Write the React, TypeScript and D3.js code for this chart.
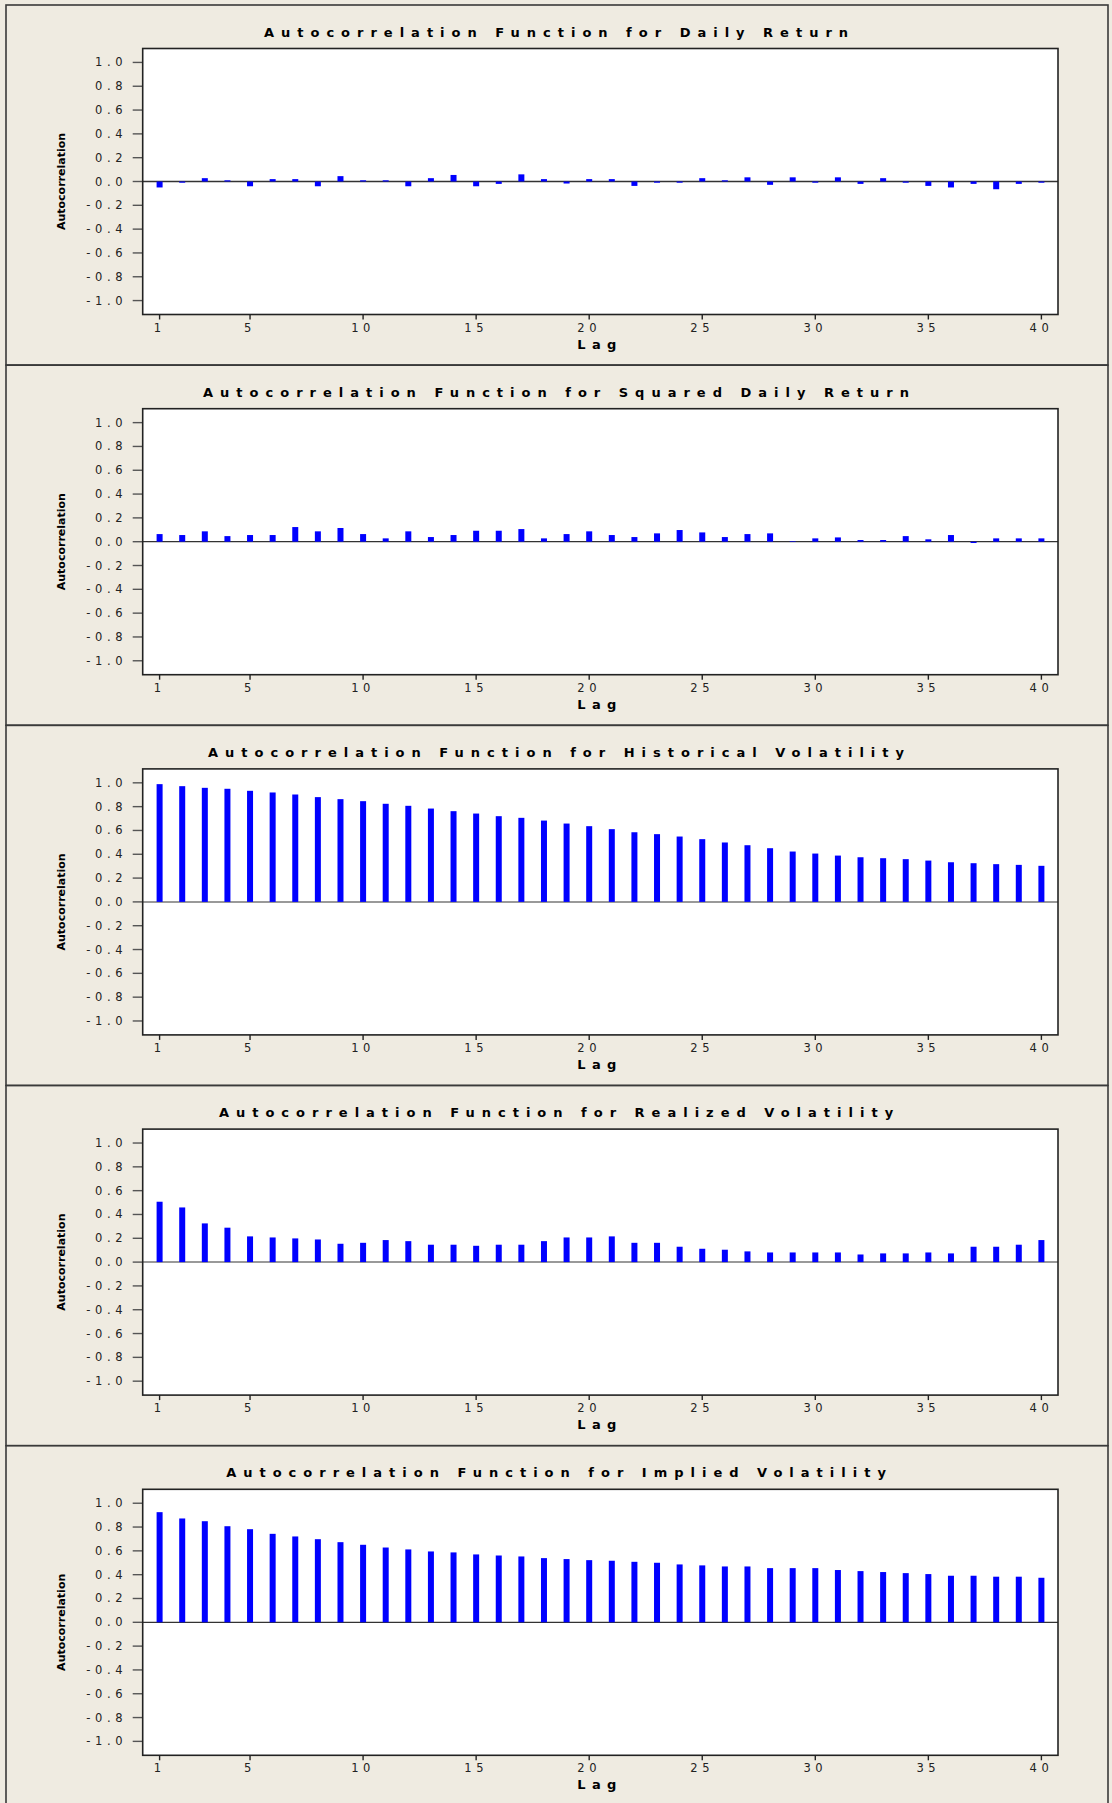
import React from "react";
import * as d3 from "d3";

const lags: number[] = d3.range(1, 41);

const dailyReturn: number[] = [
  -0.05, -0.01, 0.028, 0.01, -0.04, 0.02, 0.02, -0.04, 0.045, 0.01,
  0.01, -0.04, 0.028, 0.055, -0.04, -0.02, 0.06, 0.02, -0.017, 0.02,
  0.02, -0.037, -0.01, -0.01, 0.028, 0.01, 0.035, -0.028, 0.035, -0.01,
  0.035, -0.02, 0.028, -0.01, -0.037, -0.05, -0.02, -0.065, -0.02, -0.01,
];

const squaredDailyReturn: number[] = [
  0.064, 0.056, 0.087, 0.047, 0.056, 0.056, 0.123, 0.087, 0.115, 0.064,
  0.028, 0.087, 0.039, 0.056, 0.092, 0.092, 0.106, 0.028, 0.064, 0.087,
  0.056, 0.039, 0.07, 0.098, 0.078, 0.039, 0.064, 0.07, 0.005, 0.028,
  0.036, 0.014, 0.014, 0.047, 0.02, 0.056, -0.011, 0.028, 0.028, 0.028,
];

const historicalVolatility: number[] = [
  0.989, 0.972, 0.958, 0.95, 0.933, 0.919, 0.902, 0.88, 0.863, 0.846,
  0.824, 0.807, 0.784, 0.762, 0.742, 0.72, 0.706, 0.683, 0.658, 0.636,
  0.611, 0.585, 0.569, 0.549, 0.527, 0.499, 0.476, 0.451, 0.423, 0.406,
  0.389, 0.375, 0.367, 0.359, 0.347, 0.333, 0.325, 0.317, 0.311, 0.303,
];

const realizedVolatility: number[] = [
  0.507, 0.459, 0.325, 0.289, 0.216, 0.207, 0.199, 0.19, 0.154, 0.162,
  0.185, 0.176, 0.146, 0.146, 0.137, 0.146, 0.146, 0.176, 0.207, 0.207,
  0.216, 0.162, 0.162, 0.129, 0.112, 0.104, 0.09, 0.081, 0.081, 0.081,
  0.081, 0.064, 0.073, 0.073, 0.081, 0.073, 0.129, 0.129, 0.146, 0.185,
];

const impliedVolatility: number[] = [
  0.925, 0.872, 0.849, 0.807, 0.782, 0.743, 0.721, 0.698, 0.673, 0.651,
  0.628, 0.612, 0.595, 0.587, 0.57, 0.561, 0.553, 0.539, 0.531, 0.522,
  0.517, 0.508, 0.5, 0.486, 0.478, 0.469, 0.469, 0.455, 0.455, 0.455,
  0.439, 0.43, 0.422, 0.413, 0.405, 0.391, 0.391, 0.383, 0.383, 0.374,
];

const titles: string[] = [
  "Autocorrelation Function for Daily Return",
  "Autocorrelation Function for Squared Daily Return",
  "Autocorrelation Function for Historical Volatility",
  "Autocorrelation Function for Realized Volatility",
  "Autocorrelation Function for Implied Volatility",
];

const yTicks: number[] = [1.0, 0.8, 0.6, 0.4, 0.2, 0.0, -0.2, -0.4, -0.6, -0.8, -1.0];
const xTicks: number[] = [1, 5, 10, 15, 20, 25, 30, 35, 40];
const xAxisLabel = "Lag";
const yAxisLabel = "Autocorrelation";

const seriesList: number[][] = [
  dailyReturn,
  squaredDailyReturn,
  historicalVolatility,
  realizedVolatility,
  impliedVolatility,
];

// styling (not data)
const zeroLineStyle = [
  { color: "#333", width: 1.3 },
  { color: "#333", width: 1.3 },
  { color: "#999", width: 2 },
  { color: "#999", width: 2 },
  { color: "#333", width: 1.3 },
];

const W = 1112;
const H = 1803;
const PANEL_H = 360.2;
const PANEL_TOP0 = 5;
const PLOT_L = 142.7;
const PLOT_R = 1058;
const PLOT_T = 43.5;
const PLOT_B = 309.5;
const BG = "#efebe1";
const FONT = "'DejaVu Sans', Verdana, sans-serif";

const xScale = d3.scaleLinear().domain([1, 40]).range([159.6, 1041.4]);
const yScale = d3.scaleLinear().domain([-1.117, 1.117]).range([PLOT_B, PLOT_T]);

function Panel({ index }: { index: number }) {
  const top = PANEL_TOP0 + PANEL_H * index;
  const data = seriesList[index];
  const y0 = yScale(0);
  const zl = zeroLineStyle[index];
  const titleLS = 7.0;
  const tickLS = 4.6;
  return (
    <g transform={`translate(0,${top})`}>
      <rect x={6} y={0} width={1102} height={360} fill={BG} stroke="#3a3a3a" strokeWidth={1.6} />
      <text
        x={556 + titleLS / 2}
        y={31.7}
        textAnchor="middle"
        fontFamily={FONT}
        fontWeight="bold"
        fontSize={13}
        letterSpacing={titleLS}
        fill="#000"
      >
        {titles[index]}
      </text>
      <rect x={PLOT_L} y={PLOT_T} width={PLOT_R - PLOT_L} height={PLOT_B - PLOT_T} fill="#fff" />
      {yTicks.map((t) => (
        <g key={"y" + t}>
          <line x1={PLOT_L - 10} x2={PLOT_L} y1={yScale(t)} y2={yScale(t)} stroke="#555" strokeWidth={1.4} />
          <text
            x={122.5 + tickLS}
            y={yScale(t)}
            textAnchor="end"
            dominantBaseline="central"
            fontFamily={FONT}
            fontSize={11.5}
            letterSpacing={tickLS}
            fill="#222"
          >
            {t.toFixed(1)}
          </text>
        </g>
      ))}
      <line x1={PLOT_L} x2={PLOT_R} y1={y0} y2={y0} stroke={zl.color} strokeWidth={zl.width} />
      {data.map((v, i) => {
        const yv = yScale(v);
        return (
          <rect
            key={"b" + i}
            x={xScale(lags[i]) - 3}
            y={Math.min(yv, y0)}
            width={6}
            height={Math.abs(yv - y0)}
            fill="#0000ff"
          />
        );
      })}
      <rect
        x={PLOT_L}
        y={PLOT_T}
        width={PLOT_R - PLOT_L}
        height={PLOT_B - PLOT_T}
        fill="none"
        stroke="#222"
        strokeWidth={1.6}
      />
      {xTicks.map((t) => (
        <g key={"x" + t}>
          <line x1={xScale(t)} x2={xScale(t)} y1={PLOT_B} y2={PLOT_B + 5} stroke="#222" strokeWidth={1.4} />
          <text
            x={xScale(t)}
            y={326.7}
            textAnchor="middle"
            fontFamily={FONT}
            fontSize={11.5}
            letterSpacing={tickLS}
            fill="#222"
          >
            {String(t)}
          </text>
        </g>
      ))}
      <text
        x={600}
        y={343.5}
        textAnchor="middle"
        fontFamily={FONT}
        fontWeight="bold"
        fontSize={13}
        letterSpacing={6.4}
        fill="#000"
      >
        {xAxisLabel}
      </text>
      <text
        transform={`translate(64.5,${(PLOT_T + PLOT_B) / 2}) rotate(-90)`}
        textAnchor="middle"
        fontFamily={FONT}
        fontWeight="bold"
        fontSize={11}
        fill="#000"
      >
        {yAxisLabel}
      </text>
    </g>
  );
}

export default function App() {
  return (
    <svg
      width={W}
      height={H}
      viewBox={`0 0 ${W} ${H}`}
      style={{ position: "absolute", left: 0, top: 0, display: "block" }}
    >
      <rect x={0} y={0} width={W} height={H} fill={BG} />
      {titles.map((_, i) => (
        <Panel key={i} index={i} />
      ))}
    </svg>
  );
}
